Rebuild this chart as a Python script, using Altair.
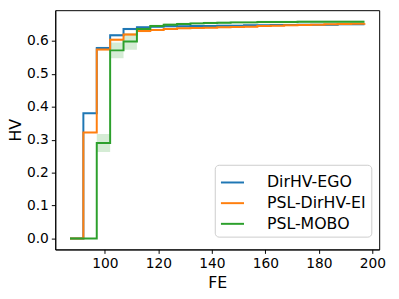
import altair as alt
import pandas as pd

fe = [87, 92, 97, 102, 107, 112, 117, 122, 127, 132, 137, 142, 147, 152, 157, 162, 167, 172, 177, 182, 187, 192, 197]

dirhv_ego = [0.0, 0.380, 0.578, 0.617, 0.636, 0.641, 0.643, 0.644, 0.644, 0.645, 0.645, 0.646,
             0.646, 0.647, 0.647, 0.648, 0.648, 0.649, 0.649, 0.649, 0.650, 0.650, 0.650]
psl_dirhv_ei = [0.0, 0.322, 0.574, 0.603, 0.619, 0.630, 0.633, 0.636, 0.638, 0.639, 0.640, 0.641,
                0.642, 0.643, 0.645, 0.646, 0.647, 0.648, 0.649, 0.650, 0.651, 0.652, 0.653]
psl_mobo = [0.0, 0.0, 0.290, 0.571, 0.598, 0.636, 0.645, 0.649, 0.651, 0.653, 0.654, 0.655,
            0.656, 0.656, 0.657, 0.657, 0.657, 0.658, 0.658, 0.658, 0.658, 0.658, 0.658]

spread_ego = [0.0, 0.002, 0.004, 0.004, 0.004, 0.003, 0.003, 0.003, 0.003, 0.003, 0.003, 0.003,
              0.003, 0.003, 0.003, 0.003, 0.003, 0.003, 0.003, 0.003, 0.003, 0.003, 0.003]
spread_ei = [0.0, 0.002, 0.004, 0.004, 0.004, 0.004, 0.003, 0.003, 0.003, 0.003, 0.003, 0.003,
             0.003, 0.003, 0.003, 0.003, 0.003, 0.003, 0.003, 0.003, 0.003, 0.003, 0.003]
spread_mobo = [0.0, 0.0, 0.027, 0.024, 0.025, 0.007, 0.004, 0.004, 0.004, 0.004, 0.004, 0.004,
               0.004, 0.004, 0.004, 0.004, 0.004, 0.004, 0.004, 0.004, 0.004, 0.004, 0.004]

methods = ["DirHV-EGO", "PSL-DirHV-EI", "PSL-MOBO"]
colors = ["#1f77b4", "#ff7f0e", "#2ca02c"]
x_ticks = [100, 120, 140, 160, 180, 200]
y_ticks = [0.0, 0.1, 0.2, 0.3, 0.4, 0.5, 0.6]

rows = []
for k, (m, vals, sp) in enumerate(zip(methods, [dirhv_ego, psl_dirhv_ei, psl_mobo],
                                      [spread_ego, spread_ei, spread_mobo])):
    for f, v, s in zip(fe, vals, sp):
        rows.append({"FE": f, "HV": v, "lo": v - s, "hi": v + s, "method": m, "order": k})
df = pd.DataFrame(rows)

xs = alt.Scale(domain=[81.5, 202.5], nice=False, zero=False)
ys = alt.Scale(domain=[-0.033, 0.693], nice=False, zero=False)
cs = alt.Scale(domain=methods, range=colors)

font = "DejaVu Sans"

legend = alt.Legend(title=None, orient="none", legendX=162, legendY=157,
                    symbolType="stroke", symbolStrokeWidth=2, symbolOpacity=1,
                    symbolSize=550, labelFontSize=16, labelFont=font,
                    labelColor="black",
                    fillColor="white", strokeColor="#cccccc",
                    cornerRadius=4, padding=5, rowPadding=0,
                    labelOffset=22)

base = alt.Chart(df)

bands = base.mark_area(interpolate="step-after", opacity=0.2).encode(
    x=alt.X("FE:Q", scale=xs),
    y=alt.Y("lo:Q", scale=ys),
    y2="hi:Q",
    color=alt.Color("method:N", scale=cs, legend=legend),
    detail="method:N",
)

lines = base.mark_line(interpolate="step-after", strokeWidth=2).encode(
    x=alt.X("FE:Q", scale=xs,
            axis=alt.Axis(values=x_ticks, title="FE", grid=False, format="d")),
    y=alt.Y("HV:Q", scale=ys,
            axis=alt.Axis(values=y_ticks, title="HV", grid=False, format=".1f")),
    color=alt.Color("method:N", scale=cs, legend=legend),
    order="order:Q",
)

chart = alt.layer(bands, lines).properties(
    width=329, height=243,
    autosize=alt.AutoSizeParams(type="none"),
    padding={"left": 48, "top": 0, "right": 12, "bottom": 40},
).configure_view(
    stroke="black", strokeWidth=1
).configure_axis(
    labelFont=font, titleFont=font, labelFontSize=14, titleFontSize=16,
    titleFontWeight="normal", labelColor="black", titleColor="black",
    domainColor="black", tickColor="black", tickSize=4, labelPadding=3,
    domainWidth=1,
).configure_axisY(titlePadding=3).configure_axisX(titlePadding=5)

chart.save("out.html", embed_options={"renderer": "svg", "actions": False})
